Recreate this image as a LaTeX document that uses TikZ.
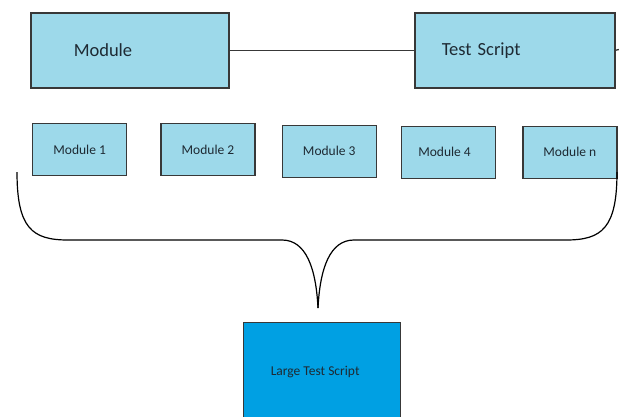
\documentclass[tikz,border=0pt]{standalone}
\usepackage{fontspec}
\setmainfont{Carlito}
\usetikzlibrary{positioning}
\definecolor{lightmod}{HTML}{9DD9EA}
\definecolor{bigscript}{HTML}{00A0E3}
\definecolor{edgegray}{HTML}{383838}
\definecolor{inktext}{HTML}{1E2A33}
\tikzset{
  topbox/.style = {rectangle, draw=edgegray, fill=lightmod, line width=1.5pt, minimum height=75pt, align=left, text=inktext, font=\fontsize{18.5}{20}\selectfont},
  modbox/.style = {rectangle, draw=edgegray, fill=lightmod, line width=1.3pt, minimum width=94pt, minimum height=52pt, inner sep=0pt, text=inktext, font=\fontsize{13.5}{15}\selectfont},
  bigbox/.style = {rectangle, draw=edgegray, fill=bigscript, line width=1.3pt, minimum width=157pt, minimum height=98pt, inner sep=0pt, text=inktext, font=\fontsize{13.5}{15}\selectfont},
  link/.style = {draw=edgegray, line width=1.3pt},
  brace/.style = {draw=black, line width=1.2pt}
}
\begin{document}
\begin{tikzpicture}[x=1pt, y=-1pt]
    \useasboundingbox (0,0) rectangle (619,416);
    % Top row
    \node (mod) [topbox, anchor=north west, text width=112pt, inner xsep=43pt] at (30,12) {Module};
    \node (ts) [topbox, anchor=north west, text width=146pt, inner xsep=27pt] at (414,12) {Test Script};
    \coordinate (tsout) at (619,49.5);
    \draw [link] (mod.east) -- (ts.west);
    \draw [link] (ts.east) -- (tsout);

    % Module row
    \node (m1) [modbox, anchor=north west] at (32,123) {Module 1};
    \node (m2) [modbox, right=33pt of m1] {Module 2};
    \node (m3) [modbox, right=26pt of m2, yshift=-1.5pt] {Module 3};
    \node (m4) [modbox, right=24pt of m3, yshift=-1pt] {\hspace*{-8pt}Module 4};
    \node (mn) [modbox, right=26pt of m4] {Module n};

    % Brace joining the modules
    \coordinate (bl) at (17,172);
    \coordinate (br) at (617,172);
    \coordinate (tip) at (318,308);
    \draw [brace] (bl) .. controls (17,228) and (32,240) .. (68,240) -- (282,240)
        .. controls (306,240) and (316,268) .. (tip);
    \draw [brace] (br) .. controls (617,228) and (602,240) .. (566,240) -- (354,240)
        .. controls (330,240) and (320,268) .. (tip);

    % Result
    \node (lts) [bigbox, anchor=north west] at (243,322) {\hspace*{-14pt}Large Test Script};
\end{tikzpicture}
\end{document}
